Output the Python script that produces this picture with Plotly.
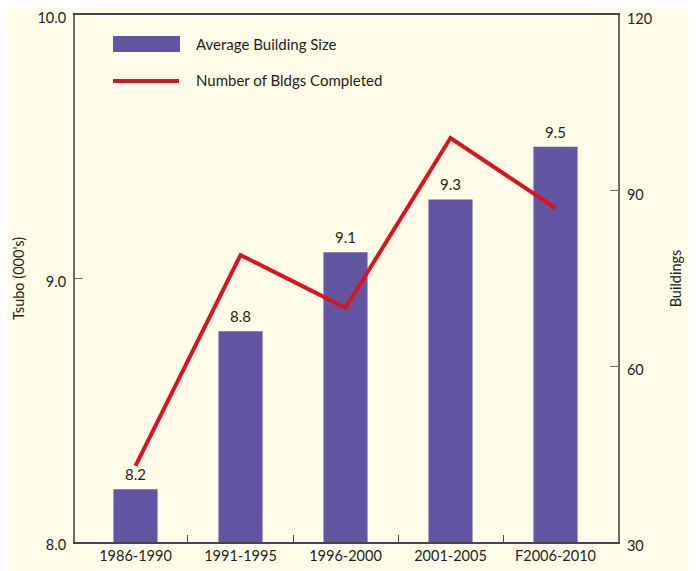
import plotly.graph_objects as go

categories = ["1986-1990", "1991-1995", "1996-2000", "2001-2005", "F2006-2010"]
avg_size = [8.2, 8.8, 9.1, 9.3, 9.5]
bldgs_completed = [43, 79, 70, 99, 87]
left_ticks = [8.0, 9.0, 10.0]
right_ticks = [30, 60, 90, 120]

BG = "#FEFCE8"
PURPLE = "#6256A2"
RED = "#D7141F"
TXT = "#231F20"
AX = "#6B6B6B"
FONT = "Lato, 'Open Sans', sans-serif"

xs = list(range(len(categories)))

fig = go.Figure()
fig.add_trace(go.Bar(x=xs, y=avg_size, marker=dict(color=PURPLE, line=dict(width=0)),
                     width=0.42, name="Average Building Size", showlegend=False))
fig.add_trace(go.Scatter(x=xs, y=bldgs_completed, mode="lines", yaxis="y2",
                         line=dict(color=RED, width=4), name="Number of Bldgs Completed",
                         showlegend=False))

for x, v in zip(xs, avg_size):
    fig.add_annotation(x=x, y=v, text=f"{v:.1f}", showarrow=False, yanchor="bottom",
                       yshift=4, font=dict(size=15, color=TXT, family=FONT))

# legend drawn manually
fig.add_shape(type="rect", xref="paper", yref="paper", x0=0.070, x1=0.1934, y0=0.930, y1=0.960,
              fillcolor=PURPLE, line=dict(width=0))
fig.add_shape(type="line", xref="paper", yref="paper", x0=0.070, x1=0.1915, y0=0.8748, y1=0.8748,
              line=dict(color=RED, width=4))
fig.add_annotation(xref="paper", yref="paper", x=0.219, y=0.945, xanchor="left", yanchor="middle",
                   text="Average Building Size", showarrow=False, font=dict(size=15, color=TXT, family=FONT))
fig.add_annotation(xref="paper", yref="paper", x=0.219, y=0.8767, xanchor="left", yanchor="middle",
                   text="Number of Bldgs Completed", showarrow=False, font=dict(size=15, color=TXT, family=FONT))

fig.update_layout(
    width=696, height=571,
    margin=dict(l=67, r=86, t=7, b=37, autoexpand=False),
    paper_bgcolor=BG, plot_bgcolor=BG,
    font=dict(family=FONT, size=14.5, color=TXT),
    xaxis=dict(range=[-0.576, 4.595], tickmode="array", tickvals=xs, ticktext=categories,
               ticks="", showgrid=False, zeroline=False, showline=True, linecolor="#4A4452",
               linewidth=2, mirror=True, automargin=False, ticklabeloverflow="allow",
               minor=dict(tickmode="array", tickvals=[0.5, 1.5, 2.5, 3.5], ticks="inside",
                          ticklen=7, tickcolor="#4A4452", tickwidth=1, showgrid=False)),
    yaxis=dict(range=[8.0, 10.0], tickmode="array", tickvals=left_ticks, tickformat=".1f",
               ticks="inside", ticklen=8, tickwidth=1, tickcolor=AX,
               ticklabelshift=3, ticklabelstandoff=4,
               showgrid=False, zeroline=False, showline=True, linecolor=AX, linewidth=2,
               automargin=False, ticklabeloverflow="allow",
               title=dict(text="Tsubo (000's)", standoff=9, font=dict(size=14.5))),
    yaxis2=dict(range=[30, 120], tickmode="array", tickvals=right_ticks, overlaying="y", side="right",
                ticks="inside", ticklen=8, tickwidth=1, tickcolor=AX,
                ticklabelshift=4, ticklabelstandoff=4,
                showgrid=False, zeroline=False, showline=True, linecolor=AX, linewidth=2,
                automargin=False, ticklabeloverflow="allow",
                title=dict(text="Buildings", standoff=20, font=dict(size=14.5))),
)

fig.write_html("out.html")
